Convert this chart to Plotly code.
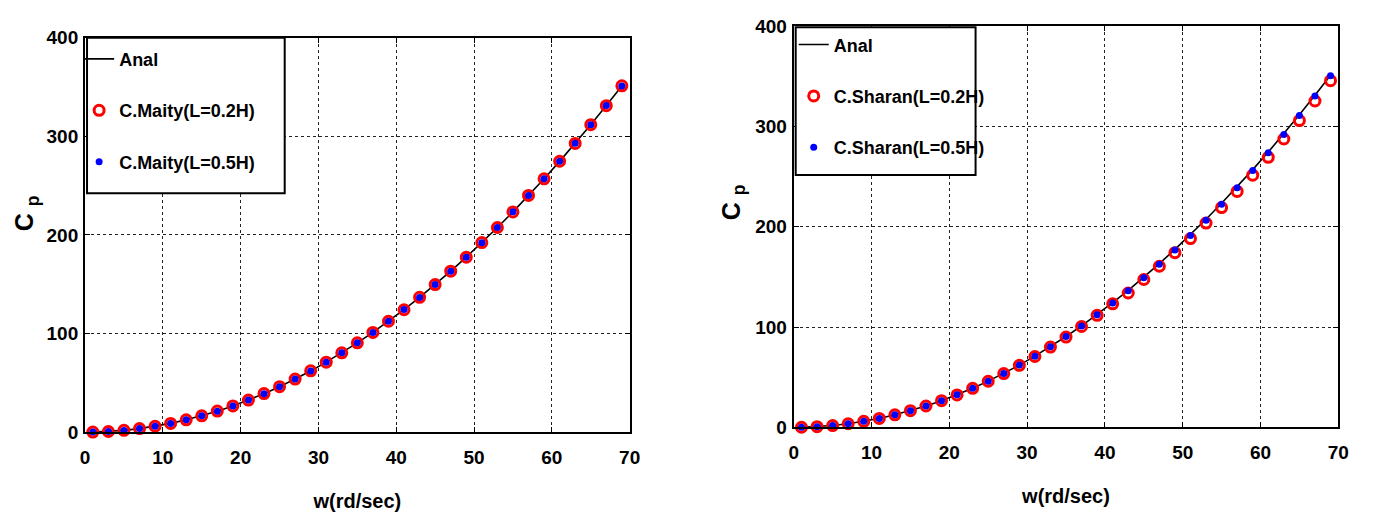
import plotly.graph_objects as go

# angular frequency samples (rd/sec)
w = [1, 3, 5, 7, 9, 11, 13, 15, 17, 19, 21, 23, 25, 27, 29, 31, 33, 35,
     37, 39, 41, 43, 45, 47, 49, 51, 53, 55, 57, 59, 61, 63, 65, 67, 69]

# analytical damping coefficient
cp_anal = [0.1, 0.7, 1.8, 3.6, 6.0, 8.9, 12.5, 16.6, 21.3, 26.6, 32.5, 39.0,
           46.1, 53.8, 62.1, 71.0, 80.5, 90.6, 101.2, 112.5, 124.3, 136.7,
           149.7, 163.3, 177.5, 192.2, 207.6, 223.5, 240.0, 257.1, 274.7,
           293.0, 311.8, 331.3, 351.2]

# C.Maity results
cp_maity_02 = [0.1, 0.7, 1.9, 3.6, 6.0, 8.9, 12.5, 16.6, 21.4, 26.6, 32.5,
               39.1, 46.1, 53.8, 62.2, 71.0, 80.5, 90.6, 101.2, 112.5, 124.2,
               136.8, 149.7, 163.3, 177.4, 192.3, 207.6, 223.4, 240.1, 257.0,
               274.8, 292.9, 311.9, 331.2, 351.3]
cp_maity_05 = [0.1, 0.7, 1.8, 3.6, 6.0, 8.9, 12.5, 16.6, 21.3, 26.6, 32.5,
               39.0, 46.1, 53.8, 62.1, 71.0, 80.5, 90.6, 101.2, 112.5, 124.3,
               136.7, 149.7, 163.3, 177.5, 192.2, 207.6, 223.5, 240.0, 257.1,
               274.7, 293.0, 311.8, 331.3, 351.2]

# C.Sharan results
cp_sharan_02 = [0.1, 0.7, 1.8, 3.6, 6.0, 8.9, 12.5, 16.6, 21.3, 26.6, 32.4,
                38.9, 46.0, 53.6, 61.9, 70.7, 80.1, 90.1, 100.6, 111.7, 123.2,
                134.0, 147.5, 160.7, 174.2, 188.3, 203.8, 219.2, 235.3, 251.5,
                269.3, 287.6, 306.0, 325.5, 345.8]
cp_sharan_05 = [0.1, 0.7, 1.8, 3.6, 6.0, 8.9, 12.5, 16.6, 21.3, 26.6, 32.5,
                39.0, 46.1, 53.8, 62.1, 71.0, 80.5, 90.6, 101.2, 112.4, 124.0,
                136.2, 149.2, 162.8, 176.8, 191.3, 206.6, 222.6, 239.0, 256.2,
                273.8, 292.2, 311.0, 330.6, 350.6]

x_ticks = [0, 10, 20, 30, 40, 50, 60, 70]
y_ticks = [0, 100, 200, 300, 400]

FONT = "Liberation Sans, Arial, sans-serif"
W, H = 1375, 518

fig = go.Figure()

def add_panel(xa, ya, legend, name, s02, s05):
    fig.add_trace(go.Scatter(
        x=w, y=cp_anal, mode="lines", name="Anal",
        line=dict(color="black", width=1.6),
        xaxis=xa, yaxis=ya, legend=legend, legendgroup=legend + "a",
        cliponaxis=False))
    fig.add_trace(go.Scatter(
        x=w, y=s02, mode="markers", name=f"{name}(L=0.2H)",
        marker=dict(symbol="circle-open", size=10, color="red",
                    line=dict(color="red", width=3)),
        xaxis=xa, yaxis=ya, legend=legend, legendgroup=legend + "b",
        cliponaxis=False))
    fig.add_trace(go.Scatter(
        x=w, y=s05, mode="markers", name=f"{name}(L=0.5H)",
        marker=dict(symbol="circle", size=7, color="blue"),
        xaxis=xa, yaxis=ya, legend=legend, legendgroup=legend + "c",
        cliponaxis=False))

add_panel("x", "y", "legend", "C.Maity", cp_maity_02, cp_maity_05)
add_panel("x2", "y2", "legend2", "C.Sharan", cp_sharan_02, cp_sharan_05)

tickfont = dict(family=FONT, size=19, color="black", weight="bold")

def px_x(p):
    return p / W

def px_y(p):
    return 1 - p / H

axis_common = dict(
    showline=True, linecolor="black", linewidth=2, mirror="ticks",
    ticks="inside", ticklen=5, tickcolor="black", tickwidth=1,
    showgrid=True, gridcolor="#222", griddash="dot", gridwidth=1,
    zeroline=False, tickfont=tickfont,
)

panels = [
    # (x-left px, x-right px, y-top px, y-bottom px)
    (81, 632, 29, 440),
    (798, 1349, 17, 435),
]

for i, (l, r, t, b) in enumerate(panels):
    sfx = "" if i == 0 else str(i + 1)
    fig.layout["xaxis" + sfx] = dict(
        axis_common, domain=[px_x(l), px_x(r)], range=[0, 70],
        tickvals=x_ticks, anchor="y" + sfx, ticklabelstandoff=7,
        title=dict(text="w(rd/sec)", standoff=27,
                   font=dict(family=FONT, size=20, color="black", weight="bold")))
    fig.layout["yaxis" + sfx] = dict(
        axis_common, domain=[px_y(b), px_y(t)], range=[0, 400],
        tickvals=y_ticks, anchor="x" + sfx, ticklabelstandoff=1)

# y axis titles C_p
for xp, yp in [(22, 212), (736, 200)]:
    fig.add_annotation(
        text="C <sub>p</sub>", x=px_x(xp), y=px_y(yp), xref="paper", yref="paper",
        textangle=-90, showarrow=False, xanchor="center", yanchor="middle",
        font=dict(family=FONT, size=25, color="black", weight="bold"))

# legend frames
legend_boxes = [(83, 283, 29, 191), (800, 982, 18, 172)]
for (l, r, t, b) in legend_boxes:
    fig.add_shape(type="rect", xref="paper", yref="paper",
                  x0=px_x(l), x1=px_x(r), y0=px_y(b), y1=px_y(t),
                  line=dict(color="black", width=2), fillcolor="white",
                  layer="above")

legend_font = dict(family=FONT, size=18, color="black", weight="bold")
fig.update_layout(
    width=W, height=H,
    margin=dict(l=0, r=0, t=0, b=0),
    paper_bgcolor="white", plot_bgcolor="white",
    legend=dict(x=px_x(75), y=px_y(32), xanchor="left", yanchor="top",
                bgcolor="rgba(0,0,0,0)", borderwidth=0, font=legend_font,
                traceorder="grouped", tracegroupgap=25),
    legend2=dict(x=px_x(798), y=px_y(17), xanchor="left", yanchor="top",
                 bgcolor="rgba(0,0,0,0)", borderwidth=0, font=legend_font,
                 traceorder="grouped", tracegroupgap=25),
)

fig.write_html("out.html")
